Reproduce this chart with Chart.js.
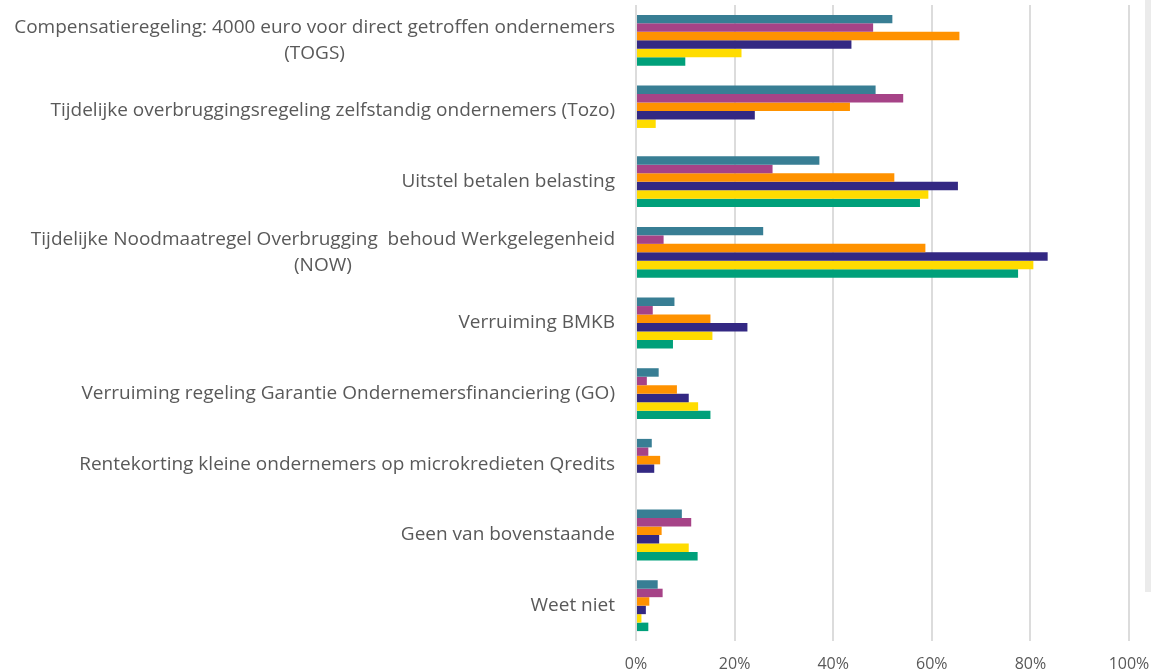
<!DOCTYPE html>
<html>
<head>
<meta charset="utf-8">
<script src="https://cdn.jsdelivr.net/npm/chart.js@4.4.1/dist/chart.umd.min.js"></script>
<style>
  html, body { margin: 0; padding: 0; background: #fff; overflow: hidden; }
  #wrap { position: relative; width: 1151px; height: 672px; }
  #strip { position: absolute; left: 1145px; top: 0; width: 6px; height: 592px; background: #ebebeb; }
</style>
</head>
<body>
<div id="wrap">
  <canvas id="regelingenChart" width="1151" height="672"></canvas>
  <div id="strip"></div>
</div>
<script>
// Categorieen (regelingen), meerregelige labels als array
const regelingen = [
    ['Compensatieregeling: 4000 euro voor direct getroffen ondernemers', '(TOGS)'],
    'Tijdelijke overbruggingsregeling zelfstandig ondernemers (Tozo)',
    'Uitstel betalen belasting',
    ['Tijdelijke Noodmaatregel Overbrugging  behoud Werkgelegenheid', '(NOW)'],
    'Verruiming BMKB',
    'Verruiming regeling Garantie Ondernemersfinanciering (GO)',
    'Rentekorting kleine ondernemers op microkredieten Qredits',
    'Geen van bovenstaande',
    'Weet niet'
];

// Waarden per reeks (percentages)
const reeks1 = [52.0, 48.6, 37.2, 25.8, 7.8, 4.6, 3.2, 9.3, 4.4];
const reeks2 = [48.1, 54.2, 27.7, 5.6, 3.4, 2.2, 2.5, 11.2, 5.4];
const reeks3 = [65.6, 43.4, 52.4, 58.7, 15.1, 8.3, 4.9, 5.2, 2.7];
const reeks4 = [43.7, 24.1, 65.3, 83.5, 22.6, 10.7, 3.7, 4.7, 2.0];
const reeks5 = [21.4, 4.0, 59.3, 80.6, 15.5, 12.6, 0, 10.7, 1.1];
const reeks6 = [10.0, 0, 57.6, 77.5, 7.5, 15.1, 0, 12.5, 2.5];

const xTicks = [0, 20, 40, 60, 80, 100];

const kleuren = ['#387e94', '#a64387', '#ff9200', '#332883', '#ffdc00', '#00a07a'];

// Labels van de y-as zelf tekenen: blok rechts uitgelijnd, regels gecentreerd
const yLabelPlugin = {
    id: 'yLabels',
    afterDraw(chart) {
        const ctx = chart.ctx;
        const yScale = chart.scales.y;
        const rightEdge = 615;
        const lineHeight = 26;
        ctx.save();
        ctx.font = '19px "Open Sans"';
        ctx.fillStyle = '#595959';
        ctx.textAlign = 'center';
        ctx.textBaseline = 'middle';
        regelingen.forEach(function(label, i) {
            const lines = Array.isArray(label) ? label : [label];
            const blockWidth = Math.max.apply(null, lines.map(function(l) { return ctx.measureText(l).width; }));
            const cx = rightEdge - blockWidth / 2;
            const cy = yScale.getPixelForValue(i);
            const startY = cy - (lines.length - 1) * lineHeight / 2;
            lines.forEach(function(l, j) {
                ctx.fillText(l, cx, startY + j * lineHeight);
            });
        });
        ctx.restore();
    }
};

const datasets = [reeks1, reeks2, reeks3, reeks4, reeks5, reeks6].map(function(data, i) {
    return {
        label: 'Reeks ' + (i + 1),
        data: data,
        backgroundColor: kleuren[i],
        borderWidth: 0,
        barPercentage: 1,
        categoryPercentage: 0.72
    };
});

const ctx = document.getElementById('regelingenChart').getContext('2d');
new Chart(ctx, {
    type: 'bar',
    data: {
        labels: regelingen,
        datasets: datasets
    },
    options: {
        indexAxis: 'y',
        responsive: false,
        animation: false,
        layout: {
            padding: { top: 5, right: 0, left: 0, bottom: 0 }
        },
        plugins: {
            legend: { display: false },
            tooltip: { enabled: false }
        },
        scales: {
            x: {
                min: 0,
                max: 100,
                afterBuildTicks: function(scale) {
                    scale.ticks = xTicks.map(function(v) { return { value: v }; });
                },
                afterFit: function(scale) {
                    scale.height = 31;
                    scale.paddingRight = 22;
                },
                border: { display: false },
                grid: {
                    color: '#dcdcdc',
                    lineWidth: 2,
                    drawTicks: false
                },
                ticks: {
                    padding: 14,
                    color: '#595959',
                    font: { family: '"Open Sans"', size: 16 },
                    callback: function(v) { return v + '%'; }
                }
            },
            y: {
                afterFit: function(scale) {
                    scale.width = 636;
                },
                border: { display: false },
                grid: { display: false },
                ticks: { display: false }
            }
        }
    },
    plugins: [yLabelPlugin]
});
</script>
</body>
</html>
